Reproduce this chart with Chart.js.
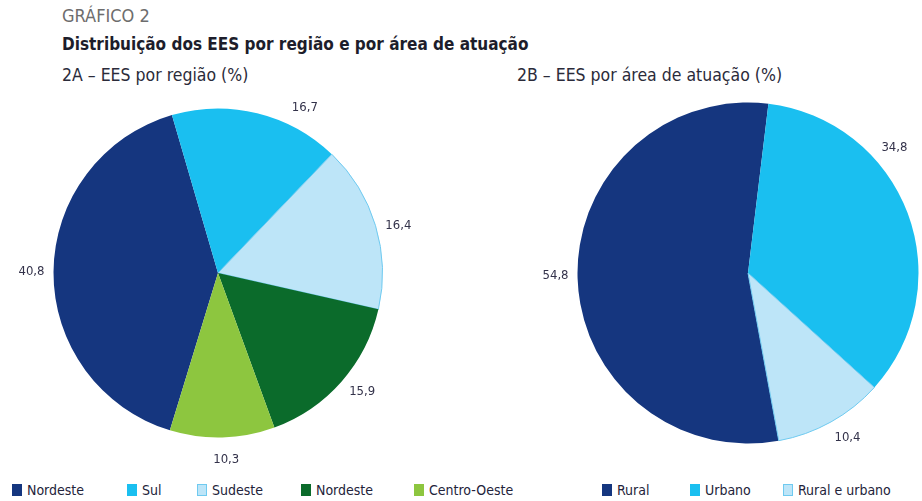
<!DOCTYPE html>
<html>
<head>
<meta charset="utf-8">
<script src="https://cdn.jsdelivr.net/npm/chart.js@4.4.0/dist/chart.umd.min.js"></script>
<style>
  html, body { margin: 0; padding: 0; background: #fff; }
  body { width: 922px; height: 501px; position: relative; overflow: hidden;
         font-family: 'Liberation Sans Narrow', 'DejaVu Sans Condensed', 'Roboto', sans-serif; color: #2b2b3a; }
  .txt { position: absolute; white-space: nowrap; }
  #kicker { left: 62px; top: 5px; font-size: 18px; color: #6d6d6d; }
  #title  { left: 62px; top: 34px; font-size: 17px; font-weight: bold; color: #1d1d2b; }
  #subA   { left: 62px; top: 65px; font-size: 17.5px; }
  #subB   { left: 517px; top: 65px; font-size: 17.5px; }
  canvas { position: absolute; }
  #chartA { left: 0; top: 80px; }
  #chartB { left: 540px; top: 80px; }
  .leg { position: absolute; top: 482px; font-size: 14px; display: flex; align-items: center; color: #23233a; }
  .leg span.box { display: inline-block; width: 10px; height: 12px; margin-right: 5px; box-sizing: border-box; }
</style>
</head>
<body>
<div class="txt" id="kicker">GRÁFICO 2</div>
<div class="txt" id="title">Distribuição dos EES por região e por área de atuação</div>
<div class="txt" id="subA">2A – EES por região (%)</div>
<div class="txt" id="subB">2B – EES por área de atuação (%)</div>
<canvas id="chartA" width="436" height="386"></canvas>
<canvas id="chartB" width="382" height="386"></canvas>
<div id="legends"></div>
<script>
// ─── Data ──────────────────────────────────────────────
const regiaoLabels = ['Nordeste', 'Sul', 'Sudeste', 'Nordeste', 'Centro-Oeste'];
const regiaoValues = [40.8, 16.7, 16.4, 15.9, 10.3];

const areaLabels = ['Rural', 'Urbano', 'Rural e urbano'];
const areaValues = [54.8, 34.8, 10.4];

const NAVY = '#15367f', CYAN = '#1abff0', LIGHT = '#bde5f8', DGREEN = '#0b6b2b', LGREEN = '#8dc63f';
const regiaoColors = [NAVY, CYAN, LIGHT, DGREEN, LGREEN];
const areaColors   = [NAVY, CYAN, LIGHT];

// draws value labels outside slices
const outLabels = {
  id: 'outLabels',
  afterDatasetsDraw(chart, args, opts) {
    const ctx = chart.ctx;
    const meta = chart.getDatasetMeta(0);
    const vals = chart.data.datasets[0].data;
    ctx.save();
    ctx.font = "13px 'Liberation Sans Narrow', 'DejaVu Sans Condensed', sans-serif";
    ctx.fillStyle = '#33324a';
    ctx.textAlign = 'center';
    ctx.textBaseline = 'middle';
    meta.data.forEach((arc, i) => {
      const mid = (arc.startAngle + arc.endAngle) / 2 + (opts.shifts[i] || 0) * Math.PI / 180;
      const d = arc.outerRadius + (opts.gap || 22);
      const x = arc.x + Math.cos(mid) * d;
      const y = arc.y + Math.sin(mid) * d;
      ctx.fillText(vals[i].toFixed(1).replace('.', ','), x, y);
    });
    ctx.restore();
  }
};

function pie(id, labels, values, colors, rotation, padding, shifts) {
  return new Chart(document.getElementById(id), {
    type: 'pie',
    data: {
      labels,
      datasets: [{
        data: values,
        backgroundColor: colors,
        borderColor: colors.map(c => c === LIGHT ? '#6fcaf0' : c),
        borderWidth: colors.map(c => c === LIGHT ? 1 : 0),
      }]
    },
    options: {
      responsive: false,
      animation: false,
      rotation,
      layout: { padding },
      plugins: {
        legend: { display: false },
        tooltip: { enabled: false },
        outLabels: { shifts, gap: 22 },
      },
    },
    plugins: [outLabels],
  });
}

pie('chartA', regiaoLabels, regiaoValues, regiaoColors, 197,
    { left: 53, right: 53, top: 28, bottom: 28 }, [0, 14, 2, -2, -1]);
pie('chartB', areaLabels, areaValues, areaColors, 169.6,
    { left: 37, right: 3, top: 22, bottom: 22 }, [1, -20, -2]);

// ─── HTML legends ─────────────────────────────────────
const legendItems = [
  ...regiaoLabels.map((l, i) => ({ l, c: regiaoColors[i] })),
  ...areaLabels.map((l, i) => ({ l, c: areaColors[i] })),
];
const legendX = [12, 127, 197, 301, 414, 602, 690, 783];
const host = document.getElementById('legends');
legendItems.forEach((it, i) => {
  const d = document.createElement('div');
  d.className = 'leg';
  d.style.left = legendX[i] + 'px';
  const b = document.createElement('span');
  b.className = 'box';
  b.style.background = it.c;
  if (it.c === LIGHT) b.style.border = '1px solid #6fcaf0';
  d.appendChild(b);
  d.appendChild(document.createTextNode(it.l));
  host.appendChild(d);
});
</script>
</body>
</html>
